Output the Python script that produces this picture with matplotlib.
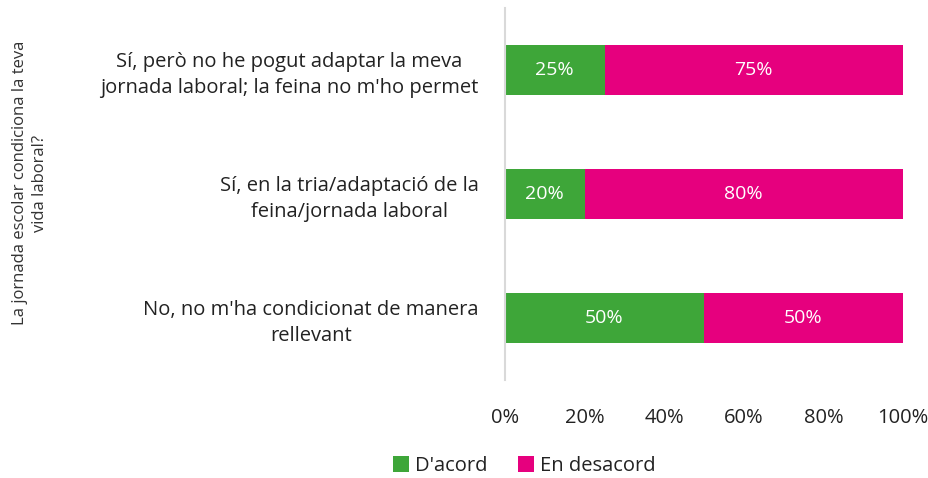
import matplotlib
matplotlib.use("Agg")
import matplotlib.pyplot as plt
from matplotlib.patches import Patch

categories = [
    "Sí, però no he pogut adaptar la meva\njornada laboral; la feina no m'ho permet",
    "Sí, en la tria/adaptació de la\nfeina/jornada laboral",
    "No, no m'ha condicionat de manera\nrellevant",
]
acord = [25, 20, 50]
desacord = [75, 80, 50]
series_names = ["D'acord", "En desacord"]
xticks = [0, 20, 40, 60, 80, 100]
ylabel = "La jornada escolar condiciona la teva\nvida laboral?"

green = "#3EA639"
magenta = "#E6007E"

plt.rcParams['font.family'] = ['Open Sans', 'DejaVu Sans']

W, H = 929, 478
fig = plt.figure(figsize=(W / 100, H / 100), dpi=100)
ax = fig.add_axes([505 / W, 1 - 380 / H, (903 - 505) / W, (380 - 8) / H])

y = list(range(len(categories)))
ax.barh(y, acord, height=0.4, color=green)
ax.barh(y, desacord, left=acord, height=0.4, color=magenta)

for i in y:
    ax.text(acord[i] / 2, i, f"{acord[i]}%", ha="center", va="center",
            color="white", fontsize=14)
    ax.text(acord[i] + desacord[i] / 2, i, f"{desacord[i]}%", ha="center",
            va="center", color="white", fontsize=14)

ax.set_ylim(len(categories) - 0.5, -0.5)
ax.set_xlim(0, 100)
ax.set_yticks(y)
ax.set_yticklabels(categories, fontsize=14.5, color="#222222", linespacing=1.35,
                   ha="right", multialignment="center")
ax.tick_params(axis="y", length=0, pad=19)
ax.set_xticks(xticks)
ax.set_xticklabels([f"{v}%" for v in xticks], fontsize=14.5, color="#222222")
ax.tick_params(axis="x", length=0, pad=20)

for s in ["top", "right", "bottom"]:
    ax.spines[s].set_visible(False)
ax.spines["left"].set_color("#d9d9d9")
ax.spines["left"].set_linewidth(1.5)

fig.text(30 / W, 1 - 183 / H, ylabel, rotation=90, ha="center", va="center",
         fontsize=12, color="#333333", linespacing=1.25)

handles = [Patch(facecolor=green), Patch(facecolor=magenta)]
fig.legend(handles, series_names, loc="center", bbox_to_anchor=(524 / W, 1 - 466 / H),
           ncol=2, frameon=False, fontsize=14.5, handlelength=0.8, handleheight=0.8,
           handletextpad=0.3, columnspacing=1.5, labelcolor="#222222")

fig.savefig("out.png", dpi=100)
